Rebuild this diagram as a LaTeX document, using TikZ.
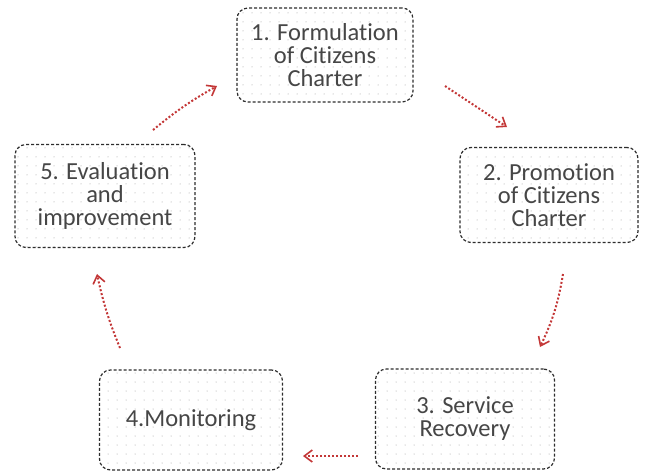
\documentclass[tikz,border=0pt]{standalone}
\usepackage{fontspec}
\setmainfont[Ligatures=NoCommon]{Carlito}
\usetikzlibrary{patterns.meta,arrows.meta}
\definecolor{txt}{RGB}{70,70,70}
\definecolor{brd}{RGB}{45,45,45}
\definecolor{arr}{RGB}{195,55,55}
\begin{document}
\begin{tikzpicture}[x=1pt,y=-1pt,
  stage/.style={rectangle, rounded corners=11pt, draw=brd, densely dashed, line width=1.2pt,
    preaction={fill=white},
    pattern={Dots[distance=9pt,radius=0.5pt]}, pattern color=black!40,
    text=txt, align=center, font=\fontsize{24.5}{23}\selectfont, inner sep=0pt},
  flow/.style={draw=arr, dotted, line width=2pt, -{Straight Barb[length=8pt,width=12pt,line width=1.6pt]}}]
\useasboundingbox (0,0) rectangle (646,472);
\node[stage, minimum width=176pt, minimum height=94pt] (s1) at (325,55) {1. Formulation\\of Citizens\\Charter};
\node[stage, minimum width=178pt, minimum height=95pt] (s2) at (549,195) {2. Promotion\\of Citizens\\Charter};
\node[stage, minimum width=179pt, minimum height=100pt] (s3) at (465,419) {3. Service\\Recovery};
\node[stage, minimum width=183pt, minimum height=100pt] (s4) at (191,420) {4.Monitoring};
\node[stage, minimum width=180pt, minimum height=103pt] (s5) at (105,196) {5. Evaluation\\and\\improvement};
\coordinate (a1s) at (445,86);
\coordinate (a1e) at (507,127);
\coordinate (a2s) at (563,274);
\coordinate (a2e) at (540,347);
\coordinate (a3s) at (358,456);
\coordinate (a3e) at (303,456);
\coordinate (a4s) at (120,348);
\coordinate (a4e) at (97,274);
\coordinate (a5s) at (153,130);
\coordinate (a5e) at (217,86);
\draw[flow] (a1s) -- (a1e);
\draw[flow] (a2s) to[bend left=8] (a2e);
\draw[flow] (a3s) -- (a3e);
\draw[flow] (a4s) to[bend left=5] (a4e);
\draw[flow] (a5s) to[bend left=5] (a5e);
\end{tikzpicture}
\end{document}
